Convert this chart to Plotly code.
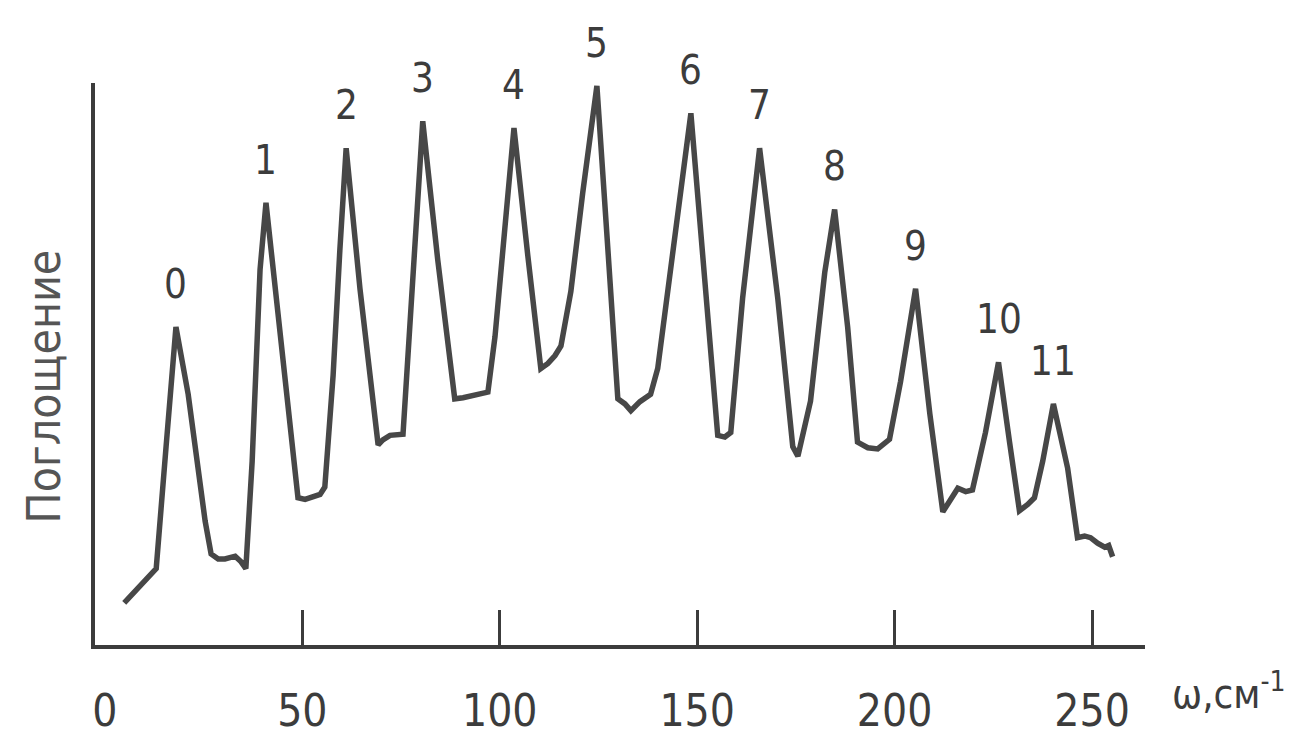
import plotly.graph_objects as go

# Wavenumber omega (cm^-1) and absorption (arb. units, 0..100)
omega = [4.9, 13.0, 15.5, 18.0, 21.1, 25.4, 26.9, 28.7, 30.4, 33.0, 34.5, 35.7,
         37.3, 39.3, 40.8, 45.1, 48.9, 50.7, 52.7, 54.5, 55.7, 57.8, 59.5, 61.1,
         64.6, 69.2, 70.4, 72.2, 75.5, 77.3, 79.0, 80.5, 84.3, 88.6, 90.7, 92.4,
         94.5, 97.0, 98.8, 101.3, 103.6, 107.1, 110.4, 112.2, 114.0, 115.5, 118.0,
         121.0, 124.6, 127.4, 129.9, 131.7, 133.2, 135.5, 138.2, 140.0, 143.8,
         148.4, 151.9, 155.2, 157.0, 158.5, 161.5, 165.8, 170.4, 174.2, 175.5,
         178.7, 182.3, 184.8, 188.1, 190.6, 193.2, 195.7, 198.7, 201.5, 205.3,
         208.9, 212.2, 213.9, 216.0, 218.0, 219.7, 223.0, 226.3, 229.1, 231.6,
         233.7, 235.4, 237.5, 240.2, 243.8, 246.3, 248.1, 249.6, 251.4, 253.2,
         254.2, 255.2]
absorption = [7.5, 13.6, 35.3, 56.6, 44.6, 22.0, 16.2, 15.3, 15.3, 15.8, 14.8, 13.6,
              32.7, 66.8, 78.7, 51.5, 26.2, 25.9, 26.4, 26.8, 28.1, 48.0, 70.2, 88.4,
              63.4, 35.6, 36.5, 37.3, 37.5, 58.3, 78.7, 93.2, 68.5, 43.8, 44.0, 44.3,
              44.6, 45.0, 54.9, 75.3, 92.0, 69.3, 49.2, 50.1, 51.5, 53.2, 62.9,
              80.4, 99.5, 70.2, 43.8, 42.9, 41.7, 43.3, 44.6, 49.2, 70.2,
              94.6, 65.1, 37.3, 37.0, 37.8, 61.7, 88.4, 61.7, 35.3, 33.6,
              43.4, 66.3, 77.5, 56.6, 36.1, 35.1, 34.9, 36.6, 46.9, 63.4,
              41.2, 23.7, 25.6, 27.9, 27.3, 27.6, 37.8, 50.3, 36.1, 23.9,
              25.0, 26.2, 32.7, 42.9, 31.5, 19.1, 19.4, 19.1, 18.1, 17.4,
              17.7, 15.7]

peak_labels = ["0", "1", "2", "3", "4", "5", "6", "7", "8", "9", "10", "11"]
peak_omega = [18.0, 40.8, 61.1, 80.5, 103.6, 124.6, 148.4, 165.8, 184.8, 205.3, 226.3, 240.2]

tick_vals = [0, 50, 100, 150, 200, 250]
tick_text = ["0", "50", "100", "150", "200", "250"]
minor_tick_vals = [50, 100, 150, 200, 250]

y_title = "Поглощение"
x_title = "ω,см<sup>-1</sup>"

FONT = "DejaVu Sans Condensed, sans-serif"
INK = "#3c3c3c"
LINE = "#474747"

fig = go.Figure()
fig.add_trace(go.Scatter(x=omega, y=absorption, mode="lines",
                         line=dict(color=LINE, width=5.5), showlegend=False,
                         hoverinfo="skip"))

for lab, w in zip(peak_labels, peak_omega):
    yv = absorption[omega.index(w)]
    fig.add_annotation(x=w, y=yv, text=lab, showarrow=False, xanchor="center",
                       yanchor="middle", yshift=43,
                       font=dict(family=FONT, size=40, color=INK))

fig.add_annotation(xref="paper", yref="paper", x=(36 - 87) / 1050, y=(662 - 392) / 587,
                   text=y_title, textangle=-90, showarrow=False,
                   xanchor="center", yanchor="middle",
                   font=dict(family=FONT, size=46, color="#555555"))
fig.add_annotation(xref="paper", yref="paper", x=(1162 - 87) / 1050, y=(662 - 710) / 587,
                   text=x_title, showarrow=False, xanchor="left", yanchor="middle",
                   font=dict(family=FONT, size=40, color=INK))

XR = [-2.5, 263.4]
fig.update_layout(
    width=1301, height=740,
    margin=dict(l=87, r=164, t=75, b=78),
    paper_bgcolor="white", plot_bgcolor="white",
    xaxis=dict(range=XR, tickmode="array", tickvals=tick_vals, ticktext=tick_text,
               ticks="", showgrid=False, zeroline=False, showline=True,
               linecolor=INK, linewidth=4, ticklabelstandoff=24,
               tickfont=dict(family=FONT, size=44, color=INK),
               minor=dict(tickmode="array", tickvals=minor_tick_vals, ticks="inside",
                          ticklen=35, tickwidth=3, tickcolor=INK, showgrid=False)),
    yaxis=dict(range=[0, 100], showticklabels=False, ticks="", showgrid=False,
               zeroline=False, showline=True, linecolor=INK, linewidth=4),
)

fig.write_html("out.html")
